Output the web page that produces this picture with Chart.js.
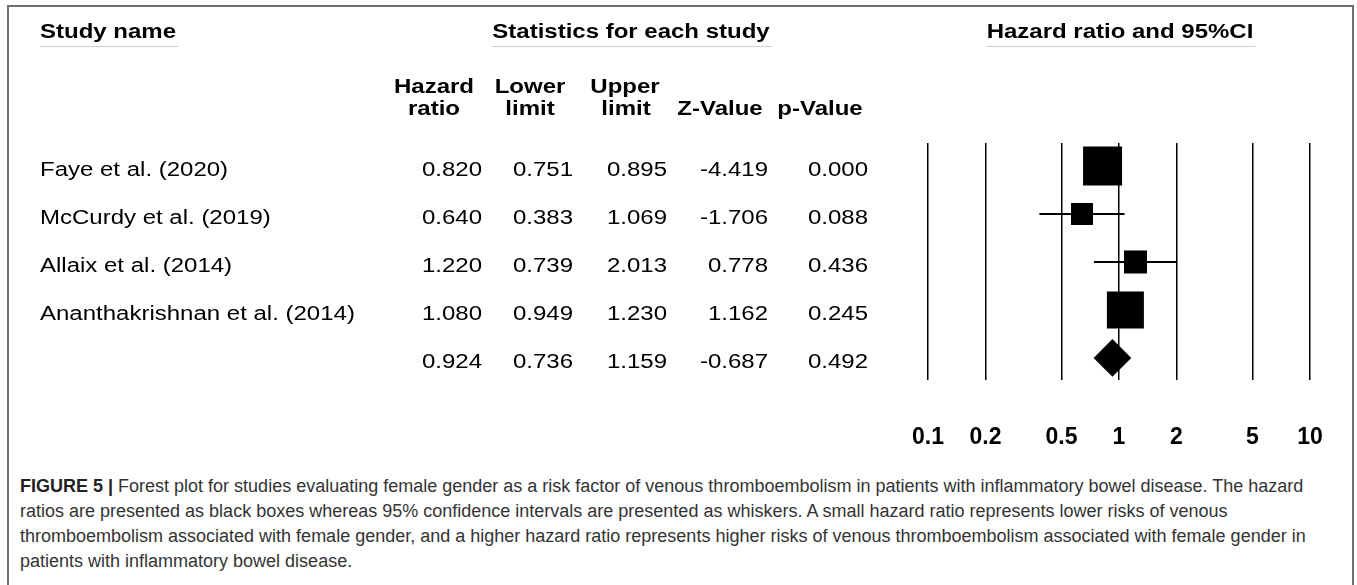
<!DOCTYPE html>
<html><head><meta charset="utf-8">
<script src="https://cdn.jsdelivr.net/npm/chart.js@4.4.0/dist/chart.umd.min.js"></script>
<style>
html,body{margin:0;padding:0;background:#fff;width:1357px;height:585px;overflow:hidden;}
#wrap{position:relative;width:1357px;height:585px;}
#frame{position:absolute;left:7px;top:5px;width:1347px;height:600px;border:2px solid #707070;border-bottom:none;box-sizing:border-box;}
#c{position:absolute;left:0;top:0;}
#caption{position:absolute;left:20px;top:474px;font-family:"Liberation Sans",Arial,Helvetica,sans-serif;font-size:18px;line-height:25px;color:#333;white-space:nowrap;}
#caption b{color:#222;}
</style></head>
<body>
<div id="wrap">
<div id="frame"></div>
<canvas id="c" width="1357" height="470"></canvas>
<div id="caption"><b>FIGURE 5 |</b> Forest plot for studies evaluating female gender as a risk factor of venous thromboembolism in patients with inflammatory bowel disease. The hazard<br>ratios are presented as black boxes whereas 95% confidence intervals are presented as whiskers. A small hazard ratio represents lower risks of venous<br>thromboembolism associated with female gender, and a higher hazard ratio represents higher risks of venous thromboembolism associated with female gender in<br>patients with inflammatory bowel disease.</div>
</div>
<script>
// ---- data ----
const studies = ['Faye et al. (2020)', 'McCurdy et al. (2019)', 'Allaix et al. (2014)', 'Ananthakrishnan et al. (2014)'];
const hazardRatio = [0.820, 0.640, 1.220, 1.080];
const lowerLimit = [0.751, 0.383, 0.739, 0.949];
const upperLimit = [0.895, 1.069, 2.013, 1.230];
const zValue = [-4.419, -1.706, 0.778, 1.162];
const pValue = [0.000, 0.088, 0.436, 0.245];
const studyWeight = [39.0, 12.4, 13.6, 35.1]; // relative weight (%)
const summaryHR = 0.924;
const summaryLower = 0.736;
const summaryUpper = 1.159;
const summaryZ = -0.687;
const summaryP = 0.492;
const tickValues = [0.1, 0.2, 0.5, 1, 2, 5, 10];
const tickLabels = ['0.1', '0.2', '0.5', '1', '2', '5', '10'];

// ---- styles ----
const FONT = "'Liberation Sans', Arial, Helvetica, sans-serif";
const BOX_SCALE = 62.45;
const STRETCH = 1.2;
Chart.defaults.font.family = FONT;

const nRows = studies.length + 1;
const datasets = [];
datasets.push({
  label: 'boxes',
  order: 0,
  data: studies.map((s, i) => ({x: hazardRatio[i], y: i})),
  pointStyle: 'rect',
  pointRadius: studyWeight.map(w => Math.sqrt(w / 100) * BOX_SCALE / Math.SQRT2),
  pointHoverRadius: studyWeight.map(w => Math.sqrt(w / 100) * BOX_SCALE / Math.SQRT2),
  backgroundColor: '#000',
  borderWidth: 0,
  showLine: false
});
datasets.push({
  label: 'summary',
  order: 0,
  data: [{x: summaryHR, y: studies.length}],
  pointStyle: 'rectRot',
  pointRadius: (ctx) => {
    const xs = ctx.chart.scales.x;
    const r = (xs.getPixelForValue(summaryUpper) - xs.getPixelForValue(summaryLower)) / 2;
    return isFinite(r) ? r : 0;
  },
  backgroundColor: '#000',
  borderWidth: 0,
  showLine: false
});
studies.forEach((s, i) => {
  datasets.push({
    label: 'ci ' + s,
    type: 'line',
    order: 1,
    data: [{x: lowerLimit[i], y: i}, {x: upperLimit[i], y: i}],
    borderColor: '#000',
    borderWidth: 2,
    pointRadius: 0,
    showLine: true,
    fill: false
  });
});

function txt(ctx, s, x, y, align, font, sx) {
  ctx.save();
  ctx.translate(x, y);
  ctx.scale(sx, 1);
  ctx.font = font;
  ctx.textAlign = align;
  ctx.textBaseline = 'alphabetic';
  ctx.fillStyle = '#000';
  ctx.fillText(s, 0, 0);
  const w = ctx.measureText(s).width * sx;
  ctx.restore();
  return w;
}

const tablePlugin = {
  id: 'table',
  afterDraw(chart) {
    const ctx = chart.ctx;
    const bold = 'bold 20px ' + FONT;
    const reg = '20px ' + FONT;
    // group headers with underline
    const heads = [['Study name', 40, 'left'], ['Statistics for each study', 631, 'center'], ['Hazard ratio and 95%CI', 1120, 'center']];
    heads.forEach(h => {
      const w = txt(ctx, h[0], h[1], 38, h[2], bold, STRETCH);
      const x0 = h[2] === 'left' ? h[1] : h[1] - w / 2;
      ctx.save();
      ctx.strokeStyle = '#cfcfcf';
      ctx.lineWidth = 1;
      ctx.beginPath();
      ctx.moveTo(x0, 46.5);
      ctx.lineTo(x0 + w + 2, 46.5);
      ctx.stroke();
      ctx.restore();
    });
    // column headers
    const colH1 = [['Hazard', 434], ['Lower', 530], ['Upper', 625]];
    const colH2 = [['ratio', 434], ['limit', 530], ['limit', 626], ['Z-Value', 720], ['p-Value', 820]];
    colH1.forEach(h => txt(ctx, h[0], h[1], 93, 'center', bold, STRETCH));
    colH2.forEach(h => txt(ctx, h[0], h[1], 115, 'center', bold, STRETCH));
    // rows
    const colRight = [482, 573, 667, 768, 868];
    const rowY = (i) => chart.scales.y.getPixelForValue(i) + 10;
    studies.forEach((s, i) => {
      const y = rowY(i);
      txt(ctx, s, 40, y, 'left', reg, STRETCH);
      [hazardRatio[i], lowerLimit[i], upperLimit[i], zValue[i], pValue[i]].forEach((v, k) => {
        txt(ctx, v.toFixed(3), colRight[k], y, 'right', reg, STRETCH);
      });
    });
    const ys = rowY(studies.length);
    [summaryHR, summaryLower, summaryUpper, summaryZ, summaryP].forEach((v, k) => {
      txt(ctx, v.toFixed(3), colRight[k], ys, 'right', reg, STRETCH);
    });
  }
};

new Chart(document.getElementById('c'), {
  type: 'scatter',
  data: {datasets},
  options: {
    responsive: false,
    animation: false,
    events: [],
    layout: {autoPadding: false, padding: {left: 928, right: 47, top: 143, bottom: 10}},
    plugins: {legend: {display: false}, tooltip: {enabled: false}},
    scales: {
      x: {
        type: 'logarithmic',
        min: 0.1,
        max: 10,
        afterBuildTicks: (scale) => { scale.ticks = tickValues.map(v => ({value: v})); },
        afterFit: (scale) => { scale.height = 80; scale.paddingLeft = 0; scale.paddingRight = 0; },
        ticks: {
          autoSkip: false,
          maxRotation: 0,
          padding: 44,
          color: '#000',
          font: {size: 23, weight: 'bold', family: FONT},
          callback: (v, i) => tickLabels[i]
        },
        grid: {color: '#000', lineWidth: 1.5, drawTicks: false},
        border: {display: false}
      },
      y: {
        type: 'linear',
        min: -0.48,
        max: nRows - 0.54,
        reverse: true,
        display: false
      }
    }
  },
  plugins: [tablePlugin]
});
</script>
</body></html>
